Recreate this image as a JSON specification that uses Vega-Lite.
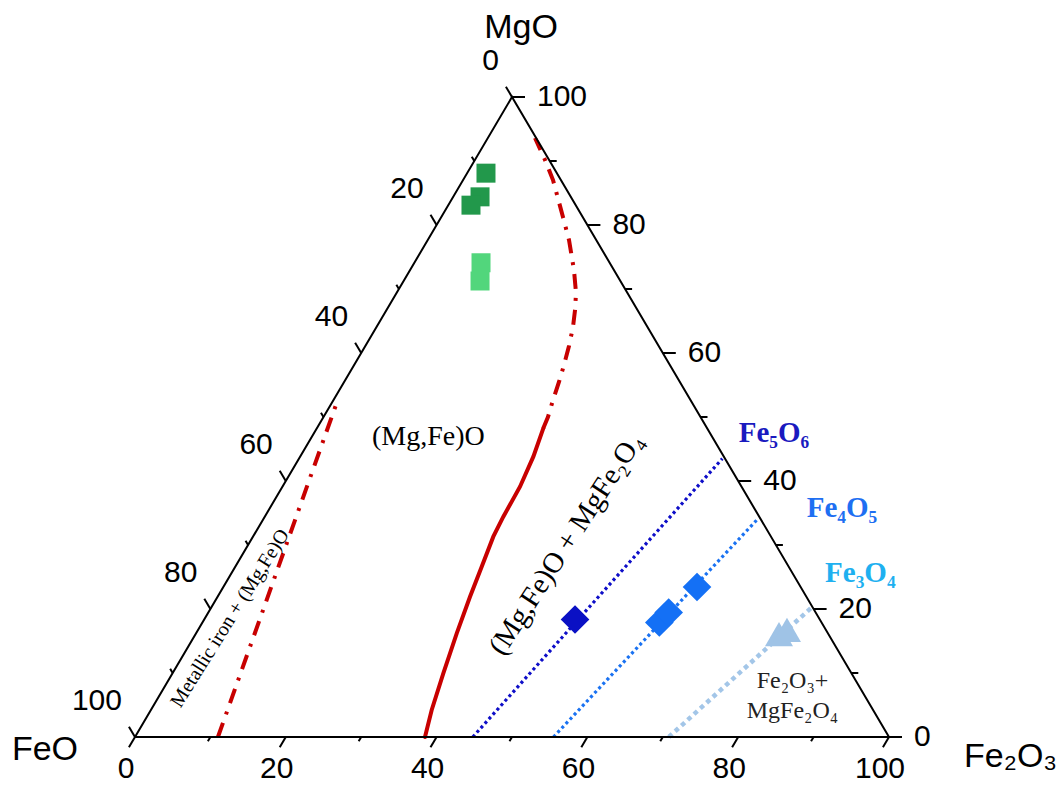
{
  "$schema": "https://vega.github.io/schema/vega-lite/v6.json",
  "width": 754,
  "height": 640,
  "autosize": "none",
  "padding": {"left": 135, "top": 97, "right": 175, "bottom": 50},
  "background": "white",
  "config": {"view": {"stroke": null}},
  "datasets": {
    "frame": [
      {"x": 0, "y": 0, "o": 0},
      {"x": 100, "y": 0, "o": 1},
      {"x": 50, "y": 100, "o": 2},
      {"x": 0, "y": 0, "o": 3}
    ],
    "ticks": [
      {"axis": "Fe2O3", "v": 0, "x": 0, "y": 0},
      {"axis": "Fe2O3", "v": 10, "x": 10, "y": 0},
      {"axis": "Fe2O3", "v": 20, "x": 20, "y": 0},
      {"axis": "Fe2O3", "v": 30, "x": 30, "y": 0},
      {"axis": "Fe2O3", "v": 40, "x": 40, "y": 0},
      {"axis": "Fe2O3", "v": 50, "x": 50, "y": 0},
      {"axis": "Fe2O3", "v": 60, "x": 60, "y": 0},
      {"axis": "Fe2O3", "v": 70, "x": 70, "y": 0},
      {"axis": "Fe2O3", "v": 80, "x": 80, "y": 0},
      {"axis": "Fe2O3", "v": 90, "x": 90, "y": 0},
      {"axis": "Fe2O3", "v": 100, "x": 100, "y": 0},
      {"axis": "MgO", "v": 0, "x": 100, "y": 0},
      {"axis": "MgO", "v": 10, "x": 95, "y": 10},
      {"axis": "MgO", "v": 20, "x": 90, "y": 20},
      {"axis": "MgO", "v": 30, "x": 85, "y": 30},
      {"axis": "MgO", "v": 40, "x": 80, "y": 40},
      {"axis": "MgO", "v": 50, "x": 75, "y": 50},
      {"axis": "MgO", "v": 60, "x": 70, "y": 60},
      {"axis": "MgO", "v": 70, "x": 65, "y": 70},
      {"axis": "MgO", "v": 80, "x": 60, "y": 80},
      {"axis": "MgO", "v": 90, "x": 55, "y": 90},
      {"axis": "MgO", "v": 100, "x": 50, "y": 100},
      {"axis": "FeO", "v": 0, "x": 50, "y": 100},
      {"axis": "FeO", "v": 10, "x": 45, "y": 90},
      {"axis": "FeO", "v": 20, "x": 40, "y": 80},
      {"axis": "FeO", "v": 30, "x": 35, "y": 70},
      {"axis": "FeO", "v": 40, "x": 30, "y": 60},
      {"axis": "FeO", "v": 50, "x": 25, "y": 50},
      {"axis": "FeO", "v": 60, "x": 20, "y": 40},
      {"axis": "FeO", "v": 70, "x": 15, "y": 30},
      {"axis": "FeO", "v": 80, "x": 10, "y": 20},
      {"axis": "FeO", "v": 90, "x": 5, "y": 10},
      {"axis": "FeO", "v": 100, "x": 0, "y": 0}
    ],
    "boundary": [
      {"part": "metal", "o": 0, "x": 11.0, "y": 0},
      {"part": "metal", "o": 1, "x": 26.9, "y": 52.7},
      {"part": "solid", "o": 0, "x": 38.46, "y": 0},
      {"part": "solid", "o": 1, "x": 39.35, "y": 4.22},
      {"part": "solid", "o": 2, "x": 40.89, "y": 9.95},
      {"part": "solid", "o": 3, "x": 42.67, "y": 16.2},
      {"part": "solid", "o": 4, "x": 44.43, "y": 21.92},
      {"part": "solid", "o": 5, "x": 45.98, "y": 26.61},
      {"part": "solid", "o": 6, "x": 47.52, "y": 31.3},
      {"part": "solid", "o": 7, "x": 48.85, "y": 34.42},
      {"part": "solid", "o": 8, "x": 51.06, "y": 39.11},
      {"part": "solid", "o": 9, "x": 52.83, "y": 43.8},
      {"part": "solid", "o": 10, "x": 54.15, "y": 48.23},
      {"part": "upper", "o": 0, "x": 54.15, "y": 48.23},
      {"part": "upper", "o": 1, "x": 54.77, "y": 50.0},
      {"part": "upper", "o": 2, "x": 55.44, "y": 52.66},
      {"part": "upper", "o": 3, "x": 56.23, "y": 55.47},
      {"part": "upper", "o": 4, "x": 56.9, "y": 58.13},
      {"part": "upper", "o": 5, "x": 57.56, "y": 61.09},
      {"part": "upper", "o": 6, "x": 58.09, "y": 64.06},
      {"part": "upper", "o": 7, "x": 58.36, "y": 66.72},
      {"part": "upper", "o": 8, "x": 58.49, "y": 69.38},
      {"part": "upper", "o": 9, "x": 58.22, "y": 72.97},
      {"part": "upper", "o": 10, "x": 57.56, "y": 77.66},
      {"part": "upper", "o": 11, "x": 56.76, "y": 81.25},
      {"part": "upper", "o": 12, "x": 55.44, "y": 87.03},
      {"part": "upper", "o": 13, "x": 54.38, "y": 90.16},
      {"part": "upper", "o": 14, "x": 53.05, "y": 93.6}
    ],
    "tielines": [
      {"phase": "Fe5O6", "x": 44.8, "y": 0},
      {"phase": "Fe5O6", "x": 77.9, "y": 43.5},
      {"phase": "Fe4O5", "x": 55.5, "y": 0},
      {"phase": "Fe4O5", "x": 82.7, "y": 34.2},
      {"phase": "Fe3O4", "x": 70.8, "y": 0},
      {"phase": "Fe3O4", "x": 89.7, "y": 20.2}
    ],
    "samples": [
      {"group": "wustite-1", "x": 46.55, "y": 88.1},
      {"group": "wustite-1", "x": 45.76, "y": 84.4},
      {"group": "wustite-1", "x": 44.56, "y": 83.1},
      {"group": "wustite-2", "x": 45.89, "y": 74.1},
      {"group": "wustite-2", "x": 45.76, "y": 71.25},
      {"group": "Fe5O6", "x": 58.36, "y": 18.36},
      {"group": "Fe4O5", "x": 69.54, "y": 17.89},
      {"group": "Fe4O5", "x": 70.78, "y": 19.45},
      {"group": "Fe4O5", "x": 74.54, "y": 23.44},
      {"group": "Fe3O4", "x": 85.41, "y": 16.09},
      {"group": "Fe3O4", "x": 86.47, "y": 16.72}
    ],
    "notes": [
      {"key": "single", "label": "(Mg,Fe)O", "x": 38.9, "y": 45.6},
      {"key": "spinel", "label": "(Mg,Fe)O  + MgFe₂O₄", "x": 57.16, "y": 30.16},
      {"key": "metal", "label": "Metallic iron + (Mg,Fe)O", "x": 12.6, "y": 18.55},
      {"key": "hematite", "label": "Fe₂O₃+\nMgFe₂O₄", "x": 87.2, "y": 7.66},
      {"key": "Fe5O6", "label": "Fe₅O₆", "x": 84.75, "y": 46.1},
      {"key": "Fe4O5", "label": "Fe₄O₅", "x": 93.77, "y": 34.4},
      {"key": "Fe3O4", "label": "Fe₃O₄", "x": 96.2, "y": 24.2}
    ],
    "corners": [
      {"name": "MgO", "label": "MgO", "x": 50, "y": 100},
      {"name": "FeO", "label": "FeO", "x": 0, "y": 0},
      {"name": "Fe2O3", "label": "Fe₂O₃", "x": 100, "y": 0}
    ]
  },
  "encoding": {
    "x": {"field": "x", "type": "quantitative", "scale": {"domain": [0, 100], "nice": false, "zero": false}, "axis": null},
    "y": {"field": "y", "type": "quantitative", "scale": {"domain": [0, 100], "nice": false, "zero": false}, "axis": null}
  },
  "layer": [
    {
      "data": {"name": "boundary"},
      "transform": [{"filter": "datum.part === 'solid'"}],
      "mark": {"type": "line", "color": "#c80000", "strokeWidth": 4, "strokeCap": "round"},
      "encoding": {"order": {"field": "o", "type": "quantitative"}}
    },
    {
      "data": {"name": "boundary"},
      "transform": [{"filter": "datum.part !== 'solid'"}],
      "mark": {"type": "line", "color": "#c80000", "strokeWidth": 4, "strokeDash": [15, 9, 3, 9]},
      "encoding": {"order": {"field": "o", "type": "quantitative"}, "detail": {"field": "part"}}
    },
    {
      "data": {"name": "tielines"},
      "transform": [{"filter": "datum.phase === 'Fe5O6'"}],
      "mark": {"type": "line", "color": "#0e0ec8", "strokeWidth": 3.2, "strokeDash": [3, 3]},
      "encoding": {}
    },
    {
      "data": {"name": "tielines"},
      "transform": [{"filter": "datum.phase === 'Fe4O5'"}],
      "mark": {"type": "line", "color": "#1a72f2", "strokeWidth": 3.2, "strokeDash": [3, 3]},
      "encoding": {}
    },
    {
      "data": {"name": "tielines"},
      "transform": [{"filter": "datum.phase === 'Fe3O4'"}],
      "mark": {"type": "line", "color": "#a3c6e8", "strokeWidth": 4.5, "strokeDash": [4.5, 4]},
      "encoding": {}
    },
    {
      "data": {"name": "frame"},
      "mark": {"type": "line", "color": "black", "strokeWidth": 2, "strokeJoin": "miter"},
      "encoding": {"order": {"field": "o", "type": "quantitative"}}
    },
    {
      "data": {"name": "ticks"},
      "transform": [{"filter": "datum.axis === 'Fe2O3'"}],
      "mark": {"type": "point", "shape": "M0,0L-0.507,0.861", "filled": false, "stroke": "black", "strokeWidth": 2, "opacity": 1},
      "encoding": {"size": {"condition": {"test": "datum.v % 20 === 0", "value": 576}, "value": 100}}
    },
    {
      "data": {"name": "ticks"},
      "transform": [{"filter": "datum.axis === 'MgO'"}],
      "mark": {"type": "point", "shape": "M0,0L1,0", "filled": false, "stroke": "black", "strokeWidth": 2, "opacity": 1},
      "encoding": {"size": {"condition": {"test": "datum.v % 20 === 0", "value": 676}, "value": 196}}
    },
    {
      "data": {"name": "ticks"},
      "transform": [{"filter": "datum.axis === 'FeO'"}],
      "mark": {"type": "point", "shape": "M0,0L-0.507,-0.861", "filled": false, "stroke": "black", "strokeWidth": 2, "opacity": 1},
      "encoding": {"size": {"condition": {"test": "datum.v % 20 === 0", "value": 576}, "value": 100}}
    },
    {
      "data": {"name": "ticks"},
      "transform": [{"filter": "datum.axis === 'Fe2O3' && datum.v % 20 === 0"}],
      "mark": {"type": "text", "font": "Liberation Sans", "fontSize": 30, "align": "center", "baseline": "middle", "dx": -9, "dy": 32, "color": "black"},
      "encoding": {"text": {"field": "v", "type": "quantitative"}}
    },
    {
      "data": {"name": "ticks"},
      "transform": [{"filter": "datum.axis === 'MgO' && datum.v % 20 === 0"}],
      "mark": {"type": "text", "font": "Liberation Sans", "fontSize": 30, "align": "left", "baseline": "middle", "dx": 25, "dy": 0, "color": "black"},
      "encoding": {"text": {"field": "v", "type": "quantitative"}}
    },
    {
      "data": {"name": "ticks"},
      "transform": [{"filter": "datum.axis === 'FeO' && datum.v % 20 === 0"}],
      "mark": {"type": "text", "font": "Liberation Sans", "fontSize": 30, "align": "right", "baseline": "middle", "dx": -13, "dy": -36, "color": "black"},
      "encoding": {"text": {"field": "v", "type": "quantitative"}}
    },
    {
      "data": {"name": "samples"},
      "mark": {"type": "point", "filled": true, "opacity": 1, "strokeWidth": 0},
      "encoding": {
        "shape": {"field": "group", "type": "nominal", "scale": {"domain": ["wustite-1", "wustite-2", "Fe5O6", "Fe4O5", "Fe3O4"], "range": ["square", "square", "diamond", "diamond", "triangle-up"]}, "legend": null},
        "color": {"field": "group", "type": "nominal", "scale": {"domain": ["wustite-1", "wustite-2", "Fe5O6", "Fe4O5", "Fe3O4"], "range": ["#22984b", "#52d67c", "#0a10c4", "#1470f5", "#9fc3e6"]}, "legend": null},
        "size": {"field": "group", "type": "nominal", "scale": {"type": "ordinal", "domain": ["wustite-1", "wustite-2", "Fe5O6", "Fe4O5", "Fe3O4"], "range": [361, 361, 820, 820, 784]}, "legend": null}
      }
    },
    {
      "data": {"name": "notes"},
      "transform": [{"filter": "datum.key === 'single'"}],
      "mark": {"type": "text", "font": "Liberation Serif", "fontSize": 28, "align": "center", "baseline": "alphabetic", "color": "black"},
      "encoding": {"text": {"field": "label"}}
    },
    {
      "data": {"name": "notes"},
      "transform": [{"filter": "datum.key === 'spinel'"}],
      "mark": {"type": "text", "font": "Liberation Serif", "fontSize": 29, "align": "center", "baseline": "middle", "angle": -57, "color": "black"},
      "encoding": {"text": {"field": "label"}}
    },
    {
      "data": {"name": "notes"},
      "transform": [{"filter": "datum.key === 'metal'"}],
      "mark": {"type": "text", "font": "Liberation Serif", "fontSize": 20, "align": "center", "baseline": "middle", "angle": -58, "color": "black"},
      "encoding": {"text": {"field": "label"}}
    },
    {
      "data": {"name": "notes"},
      "transform": [{"filter": "datum.key === 'hematite'"}],
      "mark": {"type": "text", "font": "Liberation Serif", "fontSize": 24, "align": "center", "baseline": "alphabetic", "lineBreak": "\n", "lineHeight": 30, "color": "#222222"},
      "encoding": {"text": {"field": "label"}}
    },
    {
      "data": {"name": "notes"},
      "transform": [{"filter": "datum.key === 'Fe5O6'"}],
      "mark": {"type": "text", "font": "Liberation Serif", "fontSize": 29, "fontWeight": "bold", "align": "center", "baseline": "alphabetic", "color": "#1a1abf"},
      "encoding": {"text": {"field": "label"}}
    },
    {
      "data": {"name": "notes"},
      "transform": [{"filter": "datum.key === 'Fe4O5'"}],
      "mark": {"type": "text", "font": "Liberation Serif", "fontSize": 29, "fontWeight": "bold", "align": "center", "baseline": "alphabetic", "color": "#1e6ff2"},
      "encoding": {"text": {"field": "label"}}
    },
    {
      "data": {"name": "notes"},
      "transform": [{"filter": "datum.key === 'Fe3O4'"}],
      "mark": {"type": "text", "font": "Liberation Serif", "fontSize": 29, "fontWeight": "bold", "align": "center", "baseline": "alphabetic", "color": "#1eb0f0"},
      "encoding": {"text": {"field": "label"}}
    },
    {
      "data": {"name": "corners"},
      "transform": [{"filter": "datum.name === 'MgO'"}],
      "mark": {"type": "text", "font": "Liberation Sans", "fontSize": 34, "align": "center", "baseline": "alphabetic", "dx": 9, "dy": -59, "color": "black"},
      "encoding": {"text": {"field": "label"}}
    },
    {
      "data": {"name": "corners"},
      "transform": [{"filter": "datum.name === 'FeO'"}],
      "mark": {"type": "text", "font": "Liberation Sans", "fontSize": 34, "align": "center", "baseline": "alphabetic", "dx": -90, "dy": 23, "color": "black"},
      "encoding": {"text": {"field": "label"}}
    },
    {
      "data": {"name": "corners"},
      "transform": [{"filter": "datum.name === 'Fe2O3'"}],
      "mark": {"type": "text", "font": "Liberation Sans", "fontSize": 34, "align": "left", "baseline": "alphabetic", "dx": 75, "dy": 30, "color": "black"},
      "encoding": {"text": {"field": "label"}}
    }
  ]
}
